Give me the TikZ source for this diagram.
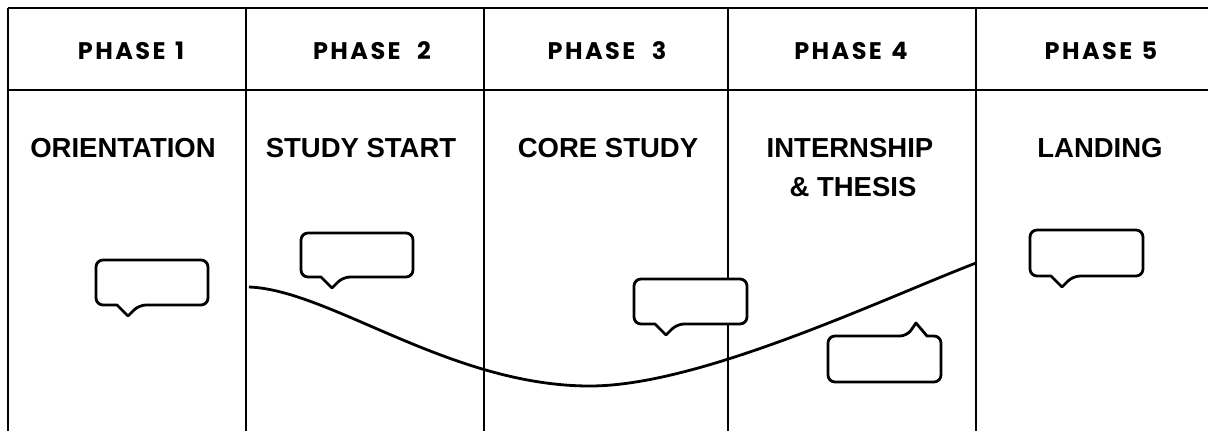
\documentclass[tikz,border=0pt]{standalone}
\usepackage{fontspec}
\newfontfamily\headfont[LetterSpace=10]{Poppins}
\newfontfamily\titlefont{Liberation Sans}
\newcommand\bubdown[5]{%
  \draw[bubble] ({(#1+#3)/2},#2) [rounded corners=7pt] -- (#3,#2) -- (#3,#4) -- ({#5+11},#4)
    [sharp corners] -- (#5,{#4+11}) -- ({#5-11},#4) [rounded corners=7pt] -- (#1,#4) -- (#1,#2) -- cycle;}
\newcommand\bubup[5]{%
  \draw[bubble] ({(#1+#3)/2},#4) [rounded corners=7pt] -- (#1,#4) -- (#1,#2) -- ({#5-9},#2)
    [sharp corners] -- (#5,{#2-13}) -- ({#5+11},#2) [rounded corners=7pt] -- (#3,#2) -- (#3,#4) -- cycle;}
\begin{document}
\begin{tikzpicture}[x=1pt,y=-1pt,line join=round,
  frame/.style={line width=2.6pt},
  head/.style={font=\headfont\bfseries\fontsize{24}{28}\selectfont,anchor=base,inner sep=0pt},
  ttl/.style={font=\titlefont\bfseries\fontsize{27.5}{33}\selectfont,anchor=base,inner sep=0pt},
  bubble/.style={line width=2.8pt,fill=white},
  journey/.style={line width=2.8pt}]
\useasboundingbox (0,0) rectangle (1208,431);
% frame
\draw[frame] (8,8) -- (1208,8);
\draw[frame] (8,90) -- (1208,90);
\foreach \x in {8,246,484,728,976} \draw[frame] (\x,8) -- (\x,431);
% headers
\node[head] (p1) at (131,59) {PHASE\hspace{2pt} 1};
\node[head] (p2) at (372,59) {PHASE\hspace{9pt} 2};
\node[head] (p3) at (607,59) {PHASE\hspace{9pt} 3};
\node[head] (p4) at (851,59) {PHASE\hspace{2pt} 4};
\node[head] (p5) at (1101,59) {PHASE\hspace{2pt} 5};
% titles
\node[ttl] (t1) at (123,157) {ORIENTATION};
\node[ttl] (t2) at (361,157) {STUDY START};
\node[ttl] (t3) at (608,157) {CORE STUDY};
\node[ttl] (t4a) at (850,157) {INTERNSHIP};
\node[ttl] (t4b) at (853,196) {\& THESIS};
\node[ttl] (t5) at (1100,157) {LANDING};
% journey curve
\coordinate (cs) at (249,287);
\coordinate (cm) at (590,386);
\coordinate (ce) at (976,263);
\draw[journey] (cs) .. controls (330,290) and (450,386) .. (cm)
  .. controls (700,386) and (880,300) .. (ce);
% bubbles
\bubdown{96}{260}{208}{305}{128}
\bubdown{301}{233}{413}{277}{332}
\bubdown{634}{279}{747}{324}{666}
\bubup{828}{336}{941}{382}{916}
\bubdown{1030}{230}{1143}{276}{1062}
\end{tikzpicture}
\end{document}
